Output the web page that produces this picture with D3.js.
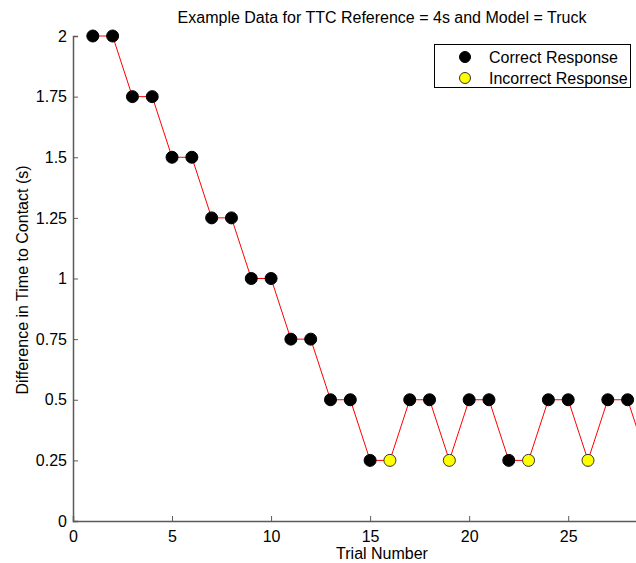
<!DOCTYPE html>
<html>
<head>
<meta charset="utf-8">
<script src="https://cdn.jsdelivr.net/npm/d3@7"></script>
<style>
  body { margin: 0; background: #fff; }
  text { font-family: "Liberation Sans", Arial, sans-serif; fill: #000; }
</style>
</head>
<body>
<script>
// trial data
var trials   = [1, 2, 3, 4, 5, 6, 7, 8, 9, 10, 11, 12, 13, 14, 15, 16, 17, 18, 19, 20, 21, 22, 23, 24, 25, 26, 27, 28, 29];
var diffs    = [2, 2, 1.75, 1.75, 1.5, 1.5, 1.25, 1.25, 1, 1, 0.75, 0.75, 0.5, 0.5, 0.25, 0.25, 0.5, 0.5, 0.25, 0.5, 0.5, 0.25, 0.25, 0.5, 0.5, 0.25, 0.5, 0.5, 0.25];
var correct  = [1, 1, 1, 1, 1, 1, 1, 1, 1, 1, 1, 1, 1, 1, 1, 0, 1, 1, 0, 1, 1, 1, 0, 1, 1, 0, 1, 1, 0];
var xTicks   = [0, 5, 10, 15, 20, 25];
var yTicks   = [0, 0.25, 0.5, 0.75, 1, 1.25, 1.5, 1.75, 2];
var yLabels  = ["0", "0.25", "0.5", "0.75", "1", "1.25", "1.5", "1.75", "2"];
var legendNames = ["Correct Response", "Incorrect Response"];
var legendColors = ["#000000", "#ffff00"];

var W = 636, H = 563;
var svg = d3.select("body").append("svg")
    .attr("width", W)
    .attr("height", H);

var x = d3.scaleLinear().domain([0, 31.2]).range([73, 691]);
var y = d3.scaleLinear().domain([0, 2]).range([521, 36]);

var axisColor = "#5a5a5a";

// axes
var xAxis = svg.append("g")
    .attr("transform", "translate(0," + y(0) + ")")
    .call(d3.axisBottom(x).tickValues(xTicks).tickSize(-5).tickPadding(9.5));
var yAxis = svg.append("g")
    .attr("transform", "translate(" + x(0) + ",0)")
    .call(d3.axisLeft(y).tickValues(yTicks).tickSize(-5).tickPadding(6)
        .tickFormat(function(d, i) { return yLabels[i]; }));

[xAxis, yAxis].forEach(function(a) {
    a.select(".domain").attr("stroke", axisColor).attr("stroke-width", 1.5);
    a.selectAll(".tick line").attr("stroke", axisColor);
    a.selectAll(".tick text").style("font-size", "16px").attr("fill", "#000");
});

// line
var pts = trials.map(function(t, i) { return [t, diffs[i], correct[i]]; });
svg.append("path")
    .datum(pts)
    .attr("fill", "none")
    .attr("stroke", "#ff0000")
    .attr("stroke-width", 1)
    .attr("d", d3.line().x(function(d) { return x(d[0]); }).y(function(d) { return y(d[1]); }));

// markers
svg.selectAll("circle.pt")
    .data(pts)
    .enter().append("circle")
    .attr("class", "pt")
    .attr("cx", function(d) { return x(d[0]); })
    .attr("cy", function(d) { return y(d[1]); })
    .attr("r", 6)
    .attr("fill", function(d) { return d[2] ? "#000" : "#ffff00"; })
    .attr("stroke", function(d) { return d[2] ? "#000" : "#333"; })
    .attr("stroke-width", 1);

// title & labels
svg.append("text")
    .attr("x", 382).attr("y", 23)
    .attr("text-anchor", "middle")
    .style("font-size", "16px")
    .text("Example Data for TTC Reference = 4s and Model = Truck");

svg.append("text")
    .attr("x", 382).attr("y", 559)
    .attr("text-anchor", "middle")
    .style("font-size", "16px")
    .text("Trial Number");

svg.append("text")
    .attr("transform", "translate(28,280) rotate(-90)")
    .attr("text-anchor", "middle")
    .style("font-size", "16px")
    .text("Difference in Time to Contact (s)");

// legend
var leg = svg.append("g");
leg.append("rect")
    .attr("x", 434.5).attr("y", 44.5)
    .attr("width", 196).attr("height", 43)
    .attr("fill", "#fff")
    .attr("stroke", "#000");
legendNames.forEach(function(n, i) {
    var cy = 57 + i * 21;
    leg.append("circle")
        .attr("cx", 465).attr("cy", cy).attr("r", 5.5)
        .attr("fill", legendColors[i])
        .attr("stroke", i ? "#333" : "#000");
    leg.append("text")
        .attr("x", 489).attr("y", cy + 5.5)
        .style("font-size", "16px")
        .text(n);
});
</script>
</body>
</html>
